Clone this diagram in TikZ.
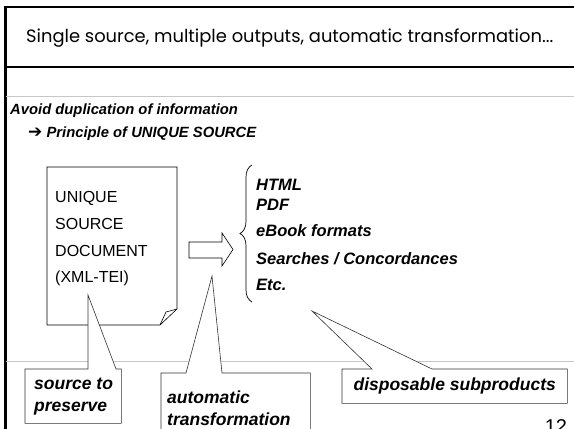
\documentclass[tikz,border=0pt]{standalone}
\usepackage{fontspec}
\setmainfont{Liberation Sans}
\newfontfamily\titlefont{Poppins}
\newfontfamily\symbfont{DejaVu Sans}
\usetikzlibrary{calc,decorations.pathreplacing}

\tikzset{
  rule/.style={draw=black!22, line width=0.8pt},
  heading/.style={font=\fontsize{14.8}{17}\selectfont\bfseries\itshape, inner sep=0pt, anchor=base west},
  doctext/.style={font=\fontsize{16}{19}\selectfont, inner sep=0pt, anchor=base west},
  outitem/.style={font=\fontsize{16.5}{20}\selectfont\bfseries\itshape, inner sep=0pt, anchor=base west},
  callbox/.style={inner sep=0pt, anchor=north west},
  callout/.style={draw=black!80, line width=0.6pt, fill=white},
  calltext/.style={font=\fontsize{17.5}{22}\selectfont\bfseries\itshape, inner sep=0pt, align=left},
}

\begin{document}
\begin{tikzpicture}[x=1pt,y=-1pt]
\useasboundingbox (0,0) rectangle (574,429);

% slide frame
\draw[line width=3pt] (5,429) -- (5,7);
\draw[line width=2.4pt] (3.5,7) -- (574,7);
\draw[line width=1.2pt] (5,67) -- (574,67);
\draw[rule] (6,96) -- (574,96);
\draw[rule] (6,361) -- (574,361);

\node[anchor=west, inner sep=0pt, font=\titlefont\fontsize{17.9}{21}\selectfont] (title) at (26,38)
  {Single source, multiple outputs, automatic transformation...};

\node[heading] (avoid) at (10,114) {Avoid duplication of information};
\node[heading] (principle) at (28,137) {{\symbfont\bfseries\fontsize{17}{17}\selectfont ➔}\ Principle of UNIQUE SOURCE};

% source document with folded corner
\coordinate (docNW) at (47,167);
\coordinate (docSE) at (177,325);
\draw[line width=0.6pt] (docNW) -- (docNW -| docSE) -- ([yshift=16pt]docSE) -- ([xshift=-17pt]docSE)
  -- (docNW |- docSE) -- cycle;
\draw[line width=0.6pt] ([yshift=16pt]docSE) -- ([xshift=-11pt,yshift=13pt]docSE) -- ([xshift=-17pt]docSE);

\node[doctext] (doc1) at (55,202.7) {UNIQUE};
\node[doctext] (doc2) at (55,229.3) {SOURCE};
\node[doctext] (doc3) at (55,256) {DOCUMENT};
\node[doctext] (doc4) at (55,282.7) {(XML-TEI)};

% transformation arrow
\draw[line width=0.6pt] (189,242) -- (222,242) -- (222,233) -- (233,249.5) -- (222,266) -- (222,258)
  -- (189,258) -- cycle;

% outputs
\draw[line width=0.7pt, decorate, decoration={brace, amplitude=12pt}] (252,302) -- (252,165);

\node[outitem] (html) at (256,190.5) {HTML};
\node[outitem] (pdf) at (256,210) {PDF};
\node[outitem] (ebook) at (256,236) {eBook formats};
\node[outitem] (search) at (256,264) {Searches / Concordances};
\node[outitem] (etc) at (256,290.5) {Etc.};

% callouts
\node[callbox, minimum width=96pt, minimum height=54pt] (srcbox) at (25,369) {};
\coordinate (srctip) at (88,295);
\draw[callout] (srcbox.north west) -- ([xshift=63pt]srcbox.north west) -- (srctip)
  -- ([xshift=91pt]srcbox.north west) -- (srcbox.north east) -- (srcbox.south east)
  -- (srcbox.south west) -- cycle;
\node[calltext, anchor=west] (srctext) at ([xshift=9pt]srcbox.west) {source to\\preserve};

\node[callbox, minimum width=149pt, minimum height=70pt] (autobox) at (161,373) {};
\coordinate (autotip) at (212,276);
\draw[callout] (autobox.north west) -- ([xshift=25pt]autobox.north west) -- (autotip)
  -- ([xshift=61pt]autobox.north west) -- (autobox.north east) -- (autobox.south east)
  -- (autobox.south west) -- cycle;
\node[calltext, anchor=north west] (autotext) at ([xshift=6pt,yshift=-18pt]autobox.north west)
  {automatic\\transformation};

\node[callbox, minimum width=225pt, minimum height=34pt] (dispbox) at (342,369) {};
\coordinate (disptip) at (312,311);
\draw[callout] (dispbox.north west) -- ([xshift=30pt]dispbox.north west) -- (disptip)
  -- ([xshift=90pt]dispbox.north west) -- (dispbox.north east) -- (dispbox.south east)
  -- (dispbox.south west) -- cycle;
\node[calltext] (disptext) at (dispbox.center) {disposable subproducts};

\node[anchor=north, inner sep=0pt, font=\fontsize{20}{24}\selectfont] (pagenum) at (556,419) {12};
\end{tikzpicture}
\end{document}
